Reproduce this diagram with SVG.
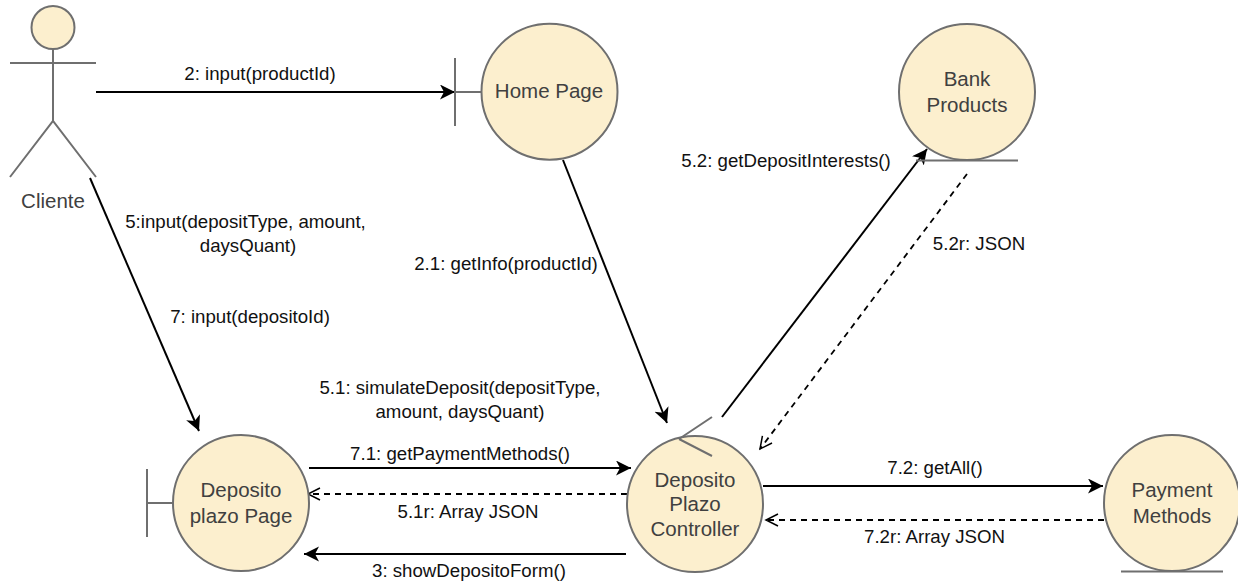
<svg xmlns="http://www.w3.org/2000/svg" width="1238" height="584" viewBox="0 0 1238 584">
<defs>
<marker id="solid" markerUnits="userSpaceOnUse" markerWidth="16" markerHeight="16" refX="15" refY="7.500" orient="auto"><path d="M0,0 L15,7.500 L0,15 L4,7.500 Z" fill="#000"/></marker>
<marker id="open" markerUnits="userSpaceOnUse" markerWidth="16" markerHeight="16" refX="13" refY="7" orient="auto"><path d="M1,1 L13,7 L1,13" fill="none" stroke="#000" stroke-width="1.500"/></marker>
</defs>
<style>
text{font-family:"Liberation Sans",Arial,sans-serif}
.n{fill:#fcefce;stroke:#6f6f6f;stroke-width:2}
.g{fill:none;stroke:#6f6f6f;stroke-width:2}
.t{font-size:20.5px;fill:#404040;text-anchor:middle}
.l{font-size:18.67px;fill:#111;text-anchor:middle}
.c{fill:none;stroke:#000;stroke-width:2;marker-end:url(#solid)}
.d{fill:none;stroke:#000;stroke-width:1.800;stroke-dasharray:6 5;marker-end:url(#open)}
</style>
<g id="connectors">
<path class="c" d="M96,92 H455"/>
<path class="c" d="M90,178 L199,431"/>
<path class="c" d="M563,160 L667,423"/>
<path class="c" d="M722,417 L927,149"/>
<path class="d" d="M967,174 L760,449"/>
<path class="c" d="M309,468 H631"/>
<path class="d" d="M627,494 H308"/>
<path class="c" d="M626,554 H304"/>
<path class="c" d="M763,486 H1103"/>
<path class="d" d="M1104,520 H766"/>
</g>
<g id="cliente">
<circle class="n" cx="53" cy="27.500" r="21.500"/>
<path class="g" d="M53,49 V121 M10,63 H96 M10,177 L53,121 L96,177"/>
<text class="t" x="53" y="208">Cliente</text>
</g>
<g id="home-page">
<circle class="n" cx="549.500" cy="91.700" r="68"/>
<path class="g" d="M455,58 V126 M455,92 H481"/>
<text class="t" x="549" y="98">Home Page</text>
</g>
<g id="bank-products">
<circle class="n" cx="967" cy="92" r="68"/>
<path class="g" d="M916,160.500 H1018"/>
<text class="t" x="967" y="86">Bank</text>
<text class="t" x="967" y="112">Products</text>
</g>
<g id="deposito-plazo-page">
<circle class="n" cx="241" cy="503" r="68"/>
<path class="g" d="M147,469 V537 M147,503 H173"/>
<text class="t" x="241" y="497">Deposito</text>
<text class="t" x="241" y="523">plazo Page</text>
</g>
<g id="deposito-plazo-controller">
<circle class="n" cx="695" cy="504" r="68"/>
<path class="g" d="M679,439 L712,417 M679,439 L712,456"/>
<text class="t" x="695" y="487">Deposito</text>
<text class="t" x="695" y="511">Plazo</text>
<text class="t" x="695" y="536">Controller</text>
</g>
<g id="payment-methods">
<circle class="n" cx="1172" cy="503" r="68"/>
<path class="g" d="M1121,571.500 H1223"/>
<text class="t" x="1172" y="497">Payment</text>
<text class="t" x="1172" y="523">Methods</text>
</g>
<g id="labels">
<text class="l" x="260" y="80">2: input(productId)</text>
<text class="l" x="245.500" y="228">5:input(depositType, amount,</text>
<text class="l" x="248" y="252">daysQuant)</text>
<text class="l" x="250" y="322.500">7: input(depositoId)</text>
<text class="l" x="506" y="270">2.1: getInfo(productId)</text>
<text class="l" x="786" y="167">5.2: getDepositInterests()</text>
<text class="l" x="979" y="250">5.2r: JSON</text>
<text class="l" x="460" y="394">5.1: simulateDeposit(depositType,</text>
<text class="l" x="460" y="418">amount, daysQuant)</text>
<text class="l" x="460" y="459.500">7.1: getPaymentMethods()</text>
<text class="l" x="468" y="517.500">5.1r: Array JSON</text>
<text class="l" x="469" y="577">3: showDepositoForm()</text>
<text class="l" x="935" y="474">7.2: getAll()</text>
<text class="l" x="934.500" y="543">7.2r: Array JSON</text>
</g>
</svg>
